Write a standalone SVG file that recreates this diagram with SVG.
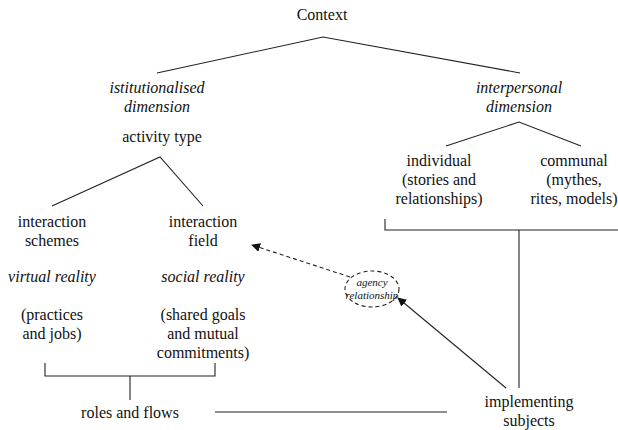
<svg xmlns="http://www.w3.org/2000/svg" width="618" height="430" viewBox="0 0 618 430" font-family="Times New Roman, Liberation Serif, serif">
<defs>
<marker id="ah" viewBox="0 0 10 10" refX="9" refY="5" markerWidth="9" markerHeight="9" markerUnits="userSpaceOnUse" orient="auto">
<path d="M0,0 L10,5 L0,10 z" fill="#111"/>
</marker>
</defs>
<g id="connectors" stroke="#222" stroke-width="1.1" fill="none">
<polyline points="157,73 323,37 520,73"/>
<polyline points="446,146 519,122 581,146"/>
<polyline points="52,206 160,157 203,206"/>
<polyline points="45,363 45,376 215,376 215,363"/>
<line x1="130" y1="376" x2="130" y2="400"/>
<polyline points="385,219 385,230 618,230"/>
<line x1="519" y1="230" x2="519" y2="388"/>
<line x1="215" y1="412" x2="447" y2="412"/>
<line x1="506" y1="388" x2="398" y2="298" marker-end="url(#ah)"/>
<line x1="350" y1="277" x2="252" y2="245" stroke-dasharray="4 3" marker-end="url(#ah)"/>
</g>
<g font-size="16" fill="#111" text-anchor="middle">
<g id="context"><text x="322" y="20">Context</text></g>
<g id="institutionalised" font-style="italic"><text x="157" y="93">istitutionalised</text><text x="157" y="112">dimension</text></g>
<g id="interpersonal" font-style="italic"><text x="519" y="93">interpersonal</text><text x="519" y="112">dimension</text></g>
<g id="activity"><text x="162" y="142">activity type</text></g>
<g id="individual"><text x="439" y="166">individual</text><text x="439" y="185">(stories and</text><text x="439" y="204">relationships)</text></g>
<g id="communal"><text x="574" y="166">communal</text><text x="574" y="185">(mythes,</text><text x="574" y="204">rites, models)</text></g>
<g id="schemes"><text x="52" y="227">interaction</text><text x="52" y="246">schemes</text><text font-style="italic" x="52" y="282">virtual reality</text><text x="52" y="320">(practices</text><text x="52" y="339">and jobs)</text></g>
<g id="field"><text x="203" y="227">interaction</text><text x="203" y="246">field</text><text font-style="italic" x="203" y="282">social reality</text><text x="203" y="320">(shared goals</text><text x="203" y="339">and mutual</text><text x="203" y="358">commitments)</text></g>
<g id="agency" font-style="italic" font-size="11"><ellipse cx="372" cy="289" rx="27" ry="18" fill="none" stroke="#222" stroke-width="1.1" stroke-dasharray="4 3"/><text x="372" y="286">agency</text><text x="372" y="299">relationship</text></g>
<g id="roles"><text x="130" y="418">roles and flows</text></g>
<g id="implementing"><text x="529" y="407">implementing</text><text x="529" y="426">subjects</text></g>
</g>
</svg>
